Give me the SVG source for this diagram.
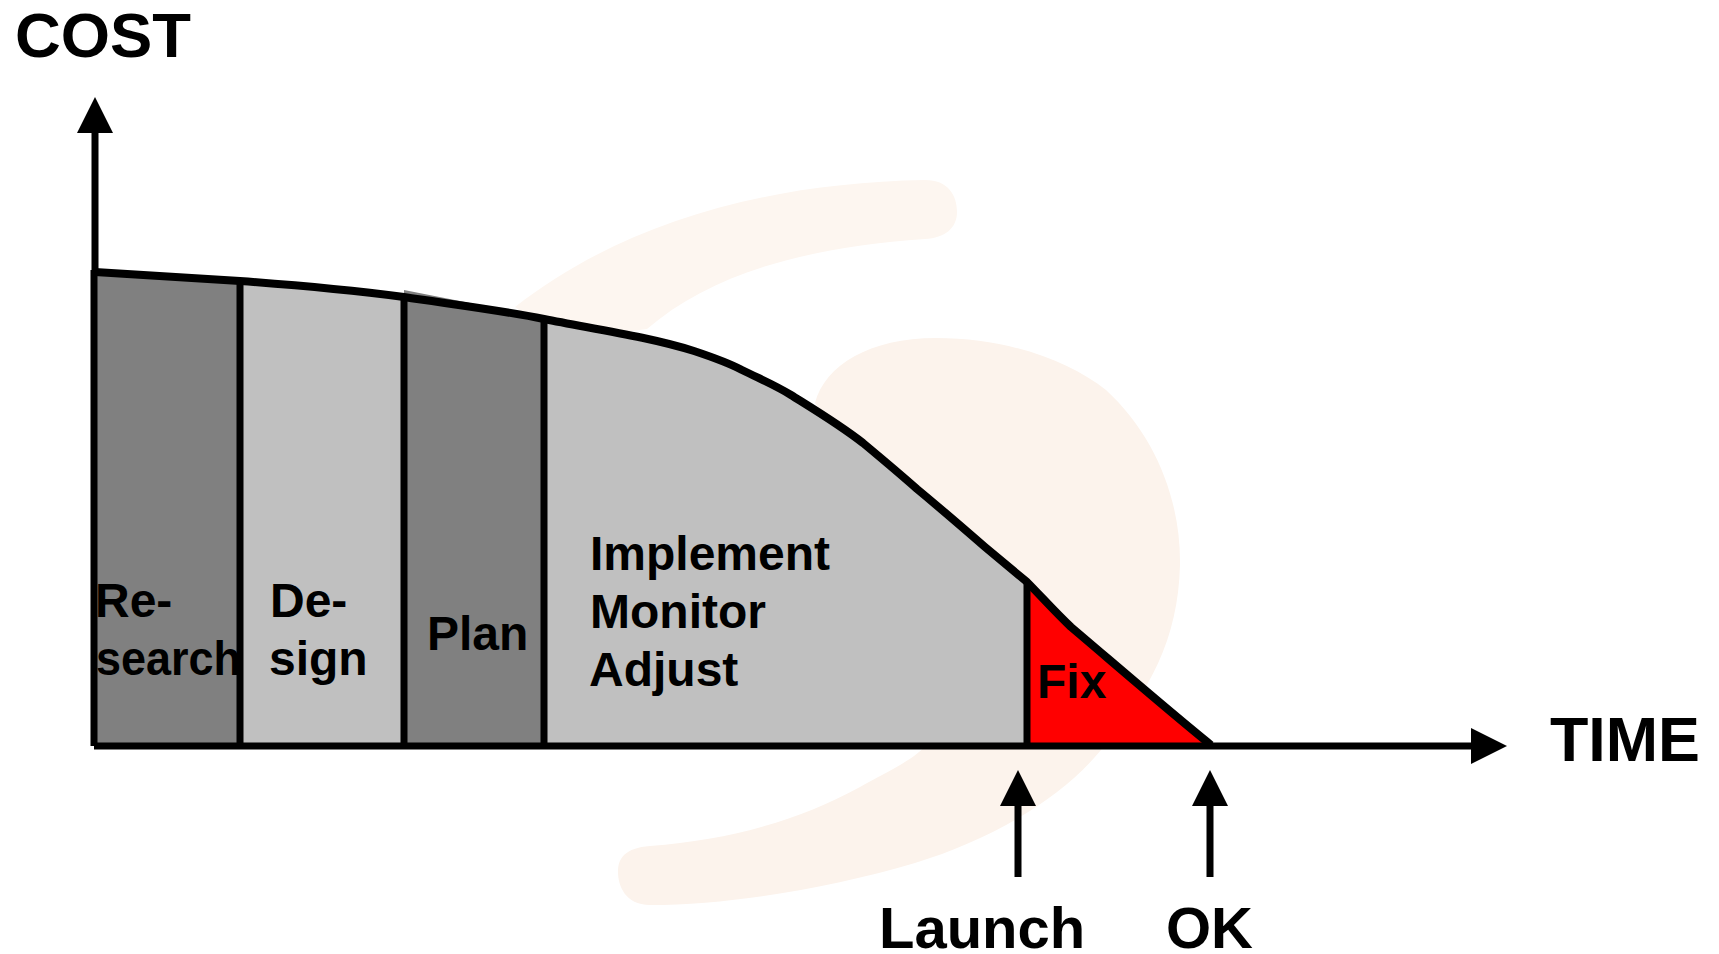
<svg xmlns="http://www.w3.org/2000/svg" width="1719" height="954" viewBox="0 0 1719 954">
<style>
.t{font-family:"Liberation Sans",Arial,sans-serif;font-weight:700;fill:#000}
.big{font-size:63px}.mid{font-size:58px}.lab{font-size:48px}
.edge{fill:none;stroke:#000;stroke-width:7}
.curve{fill:none;stroke:#000;stroke-width:8}
.dark{fill:#808080}.light{fill:#c0c0c0}
</style>
<defs>
<marker id="arrow" markerUnits="userSpaceOnUse" markerWidth="36" markerHeight="36" viewBox="0 0 36 36" refX="0" refY="18" orient="auto"><path d="M0 0L36 18L0 36Z" fill="#000"/></marker>
</defs>
<rect width="1719" height="954" fill="#fff"/>
<g id="watermark" fill="#fcf3ec">
<path fill="#fdf6f0" d="M515 307C620 225 760 183 925 180C948 180 957 195 957 212C957 228 945 238 925 239C800 248 710 275 647 329L560 340Z"/>
<path d="M815 403C825 365 870 338 936 338C1010 338 1070 362 1106 390C1155 435 1181 500 1180 565C1178 640 1150 690 1101 750C1060 800 990 840 915 863C830 888 730 905 650 905C625 905 618 885 618 872C618 858 625 848 650 846C730 840 800 820 860 787C890 770 915 760 931 740L900 520Z"/>
</g>
<g id="research"><path class="dark" d="M95 272L240 281V746H95Z"/></g>
<g id="design"><path class="light" d="M240 281C295 285 350 290 404 297V746H240Z"/></g>
<g id="plan"><path class="dark" d="M404 290L470 303L544 319V746H404Z"/></g>
<g id="implement"><path class="light" d="M544 319C594 329 650 337 694 351C712 357 727 362 742 370C760 379 775 385 791 395C815 410 840 425 863 443C881 458 899 473 917 489C940 508 962 527 985 547L1027 582V746H544Z"/></g>
<g id="fix"><path fill="#f00" d="M1027 582C1040 595 1055 612 1071 627C1110 660 1170 712 1210 742V746H1027Z"/></g>
<g id="connectors">
<path class="curve" d="M95 272L240 281C295 285 350 290 404 297C450 304 500 310 544 319C594 329 650 337 694 351C712 357 727 362 742 370C760 379 775 385 791 395C815 410 840 425 863 443C881 458 899 473 917 489C940 508 962 527 985 547L1027 582C1040 595 1055 612 1071 627C1110 660 1170 712 1211 745"/>
<path class="edge" d="M94 746V270M240 281V746M404 297V746M544 319V746M1027 582V746"/>
<path class="edge" d="M95 272V133" marker-end="url(#arrow)"/>
<path class="edge" d="M94 746H1471" marker-end="url(#arrow)"/>
<path class="edge" d="M1018 877V806" marker-end="url(#arrow)"/>
<path class="edge" d="M1210 877V806" marker-end="url(#arrow)"/>
</g>
<g id="labels">
<text class="t big" x="15" y="57" textLength="176" lengthAdjust="spacingAndGlyphs">COST</text>
<text class="t big" x="1550" y="761" textLength="150" lengthAdjust="spacingAndGlyphs">TIME</text>
<text class="t mid" x="879" y="948">Launch</text>
<text class="t mid" x="1166" y="948">OK</text>
<text class="t lab" x="95" y="617">Re-</text>
<text class="t lab" x="96" y="675" textLength="145" lengthAdjust="spacingAndGlyphs">search</text>
<text class="t lab" x="270" y="617">De-</text>
<text class="t lab" x="269" y="675">sign</text>
<text class="t lab" x="427" y="650">Plan</text>
<text class="t lab" x="590" y="570">Implement</text>
<text class="t lab" x="590" y="628">Monitor</text>
<text class="t lab" x="589" y="686">Adjust</text>
<text class="t lab" x="1037" y="698">Fix</text>
</g>
</svg>
